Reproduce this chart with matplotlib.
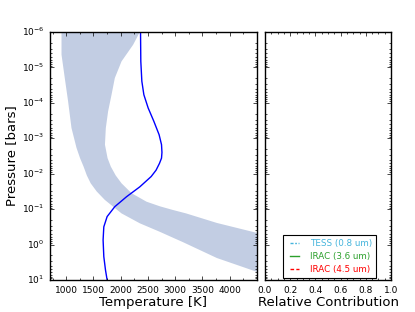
import numpy as np
import matplotlib
matplotlib.use('Agg')
import matplotlib.pyplot as plt
from matplotlib.ticker import AutoMinorLocator, LogLocator, NullFormatter

plt.style.use('classic')

# temperature-pressure band edges (log10 pressure in bars)
lo_logp = [-6.0, -5.36, -4.70, -4.04, -3.29, -2.73, -2.44, -2.20, -1.95, -1.73, -1.50, -1.26, -0.88, -0.60, -0.36, -0.18, -0.07, 0.38, 0.77, 1.0]
lo_t = [915, 915, 975, 1036, 1098, 1190, 1255, 1320, 1380, 1450, 1560, 1710, 2016, 2352, 2719, 2980, 3141, 3766, 4500, 4920]
hi_logp = [-6.0, -5.64, -5.17, -4.70, -4.23, -3.76, -3.29, -2.82, -2.44, -2.20, -1.95, -1.73, -1.45, -1.21, -1.08, -0.98, -0.88, -0.61, -0.33, 0.2, 1.0]
hi_t = [2352, 2229, 2016, 1893, 1833, 1770, 1728, 1712, 1760, 1820, 1910, 2016, 2200, 2475, 2720, 2950, 3200, 3766, 4500, 5800, 7100]

# retrieved profile
prof_logp = [-6.0, -5.17, -4.61, -4.23, -3.855, -3.48, -3.10, -2.82, -2.60, -2.44, -2.29, -2.10, -1.92, -1.63, -1.35, -1.07, -0.79, -0.50, -0.13, 0.34, 0.72, 1.0]
prof_t = [2365, 2370, 2389, 2426, 2505, 2609, 2706, 2750, 2758, 2750, 2712, 2650, 2560, 2352, 2108, 1893, 1752, 1691, 1678, 1691, 1722, 1752]

filters = ['TESS (0.8 um)', 'IRAC (3.6 um)', 'IRAC (4.5 um)']
fcolors = ['#44b4dc', '#2ca02c', 'r']
fstyles = [(0, (2.2, 1.2, 1.2, 1.2)), '-', (0, (2.6, 1.6))]

fig = plt.figure(figsize=(4.15, 3.12), dpi=100, facecolor='white')
ax1 = fig.add_axes([0.120, 0.1026, 0.499, 0.7948])
ax2 = fig.add_axes([0.6386, 0.1026, 0.3036, 0.7948])

band_t = lo_t + hi_t[::-1]
band_p = 10.0 ** np.array(lo_logp + hi_logp[::-1])
ax1.fill(band_t, band_p, color='#c2cde3', lw=0)
ax1.plot(prof_t, 10.0 ** np.array(prof_logp), color='b', lw=1.0)

for ax in (ax1, ax2):
    ax.set_yscale('log')
    ax.set_ylim(1e1, 1e-6)
    ax.yaxis.set_major_locator(LogLocator(base=10, numticks=10))
    ax.yaxis.set_minor_locator(LogLocator(base=10, subs=np.arange(2, 10), numticks=10))
    ax.tick_params(which='both', direction='in', top=True, right=True, labelsize=6.5)
    ax.tick_params(which='major', length=3)
    ax.tick_params(which='minor', length=1.5)
    ax.xaxis.set_minor_locator(AutoMinorLocator(2))

ax1.set_xlim(700, 4500)
ax1.set_xticks([1000, 1500, 2000, 2500, 3000, 3500, 4000])
ax1.set_xlabel('Temperature [K]', fontsize=9.5, labelpad=1)
ax1.set_ylabel('Pressure [bars]', fontsize=9.5)
ax1.yaxis.set_label_coords(-0.155, 0.5)

ax2.set_xlim(0, 1)
ax2.set_xticks([0.0, 0.2, 0.4, 0.6, 0.8, 1.0])
ax2.xaxis.set_minor_locator(AutoMinorLocator(4))
ax2.yaxis.set_major_formatter(NullFormatter())
ax2.yaxis.set_minor_formatter(NullFormatter())
ax2.set_xlabel('Relative Contribution', fontsize=9.5, labelpad=1)

for name, c, ls in zip(filters, fcolors, fstyles):
    ax2.plot([], [], color=c, ls=ls, lw=1.0, label=name)
leg = ax2.legend(loc='lower right', bbox_to_anchor=(0.915, -0.01), fontsize=6.3,
                 handlelength=1.7, handletextpad=0.9, borderpad=0.45,
                 labelspacing=0.45, frameon=True, fancybox=False)
leg.get_frame().set_linewidth(0.8)
for txt, c in zip(leg.get_texts(), fcolors):
    txt.set_color(c)

fig.savefig('out.png', dpi=100, facecolor='white')
